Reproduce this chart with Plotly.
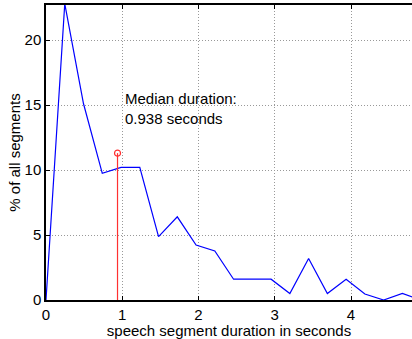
import plotly.graph_objects as go

durations = [0, 0.246, 0.492, 0.738, 0.984, 1.23, 1.476, 1.722, 1.968, 2.214, 2.46,
             2.706, 2.952, 3.198, 3.444, 3.69, 3.936, 4.182, 4.428, 4.674, 4.92]
percent = [0, 22.8, 15.1, 9.75, 10.2, 10.2, 4.87, 6.4, 4.23, 3.77, 1.6,
           1.6, 1.6, 0.5, 3.2, 0.5, 1.6, 0.46, 0.0, 0.5, 0.0]
median_x = [0.938, 0.938]
median_y = [0, 11.3]
x_ticks = [0, 1, 2, 3, 4]
y_ticks = [0, 5, 10, 15, 20]

font = "Liberation Sans, Arial, sans-serif"
fs = 15

fig = go.Figure()
fig.add_trace(go.Scatter(x=durations, y=percent, mode="lines",
                         line=dict(color="#0000ff", width=1.2), showlegend=False))
fig.add_trace(go.Scatter(x=median_x, y=median_y, mode="lines",
                         line=dict(color="#ff3030", width=1.2), showlegend=False))
fig.add_trace(go.Scatter(x=[median_x[1]], y=[median_y[1]], mode="markers",
                         marker=dict(symbol="circle-open", size=6, color="#ff3030",
                                     line=dict(width=1.2)), showlegend=False))

fig.add_annotation(x=1.01, y=14.7, xref="x", yref="y", xanchor="left", yanchor="middle",
                   align="left", showarrow=False,
                   text="Median duration:<br>0.938 seconds",
                   font=dict(family=font, size=fs, color="black"))

axis_common = dict(showline=True, linecolor="black", linewidth=1.5,
                   ticks="inside", ticklen=4, tickcolor="black",
                   showgrid=True, gridcolor="#999999", griddash="1px,2px", gridwidth=1,
                   zeroline=False, tickfont=dict(family=font, size=fs, color="black"))

fig.update_xaxes(range=[0, 4.8], tickvals=x_ticks, mirror="ticks", **axis_common,
                 title=dict(text="speech segment duration in seconds", standoff=0,
                            font=dict(family=font, size=fs, color="black")))
fig.update_yaxes(range=[0, 22.7], tickvals=y_ticks, mirror=False, **axis_common,
                 title=dict(text="% of all segments", standoff=0,
                            font=dict(family=font, size=fs, color="black")))

fig.update_layout(width=412, height=339, margin=dict(l=46, r=0, t=5, b=39),
                  plot_bgcolor="white", paper_bgcolor="white")
fig.write_html("out.html")
